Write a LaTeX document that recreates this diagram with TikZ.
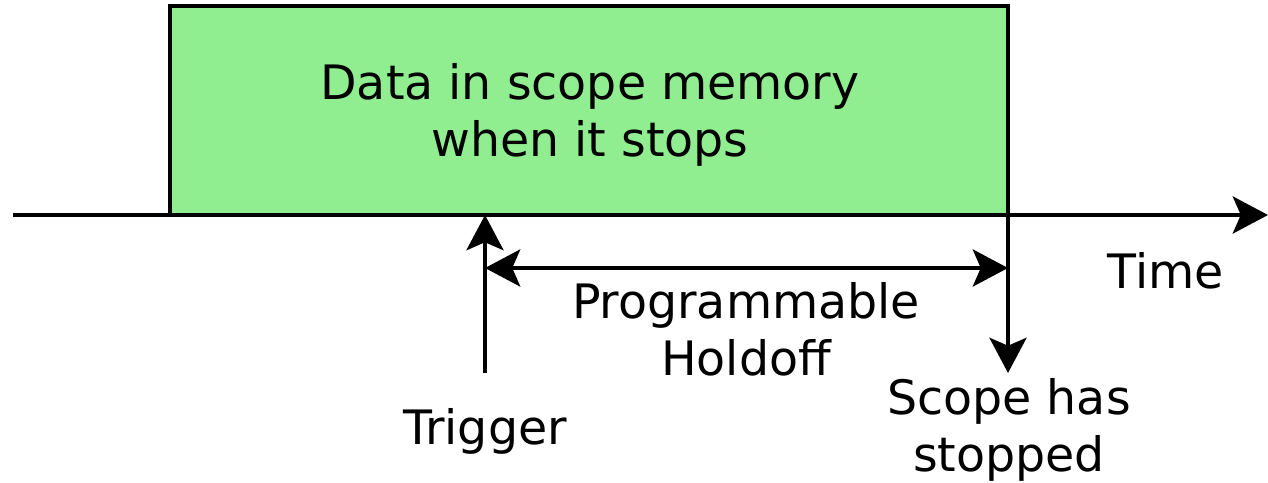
\documentclass[tikz,border=0pt]{standalone}
\usepackage{fontspec}
\setmainfont{DejaVu Sans}
\usetikzlibrary{positioning,arrows.meta}
\definecolor{memgreen}{HTML}{90EE90}

\begin{document}
\begin{tikzpicture}[
    x=0.02cm, y=-0.02cm,
    line width=2.7pt,
    label/.style={font=\fontsize{27}{32.5}\selectfont, align=center, inner sep=0pt},
    arrow/.style={-{Stealth[length=20pt, width=21pt, inset=4.5pt]}},
    dblarrow/.style={{Stealth[length=20pt, width=21pt, inset=4.5pt]}-{Stealth[length=20pt, width=21pt, inset=4.5pt]}}
]
\useasboundingbox (0,0) rectangle (1268,483);

% memory block
\draw[fill=memgreen] (170,6) rectangle (1008,215);
\node[label] (mem) at (590,115) {Data in scope memory\\when it stops};

% time axis
\coordinate (t0) at (13,215);
\coordinate (t1) at (1268,215);
\draw[arrow] (t0) -- (t1);
\node[label] (time) at (1166,271) {Time};

% trigger and stop
\coordinate (trig) at (485,215);
\coordinate (trigfoot) at (485,373);
\coordinate (stop) at (1008,215);
\coordinate (stopfoot) at (1008,373);
\draw[arrow] (trigfoot) -- (trig);
\draw[arrow] (stop) -- (stopfoot);
\node[label] (trigger) at (485,431) {Trigger};
\node[label] (stopped) at (1009,430) {Scope has\\stopped};

% holdoff
\coordinate (h0) at (485,268);
\coordinate (h1) at (1008,268);
\draw[dblarrow] (h0) -- (h1);
\node[label] (holdoff) at (746,329) {Programmable\\Holdoff};
\end{tikzpicture}
\end{document}
